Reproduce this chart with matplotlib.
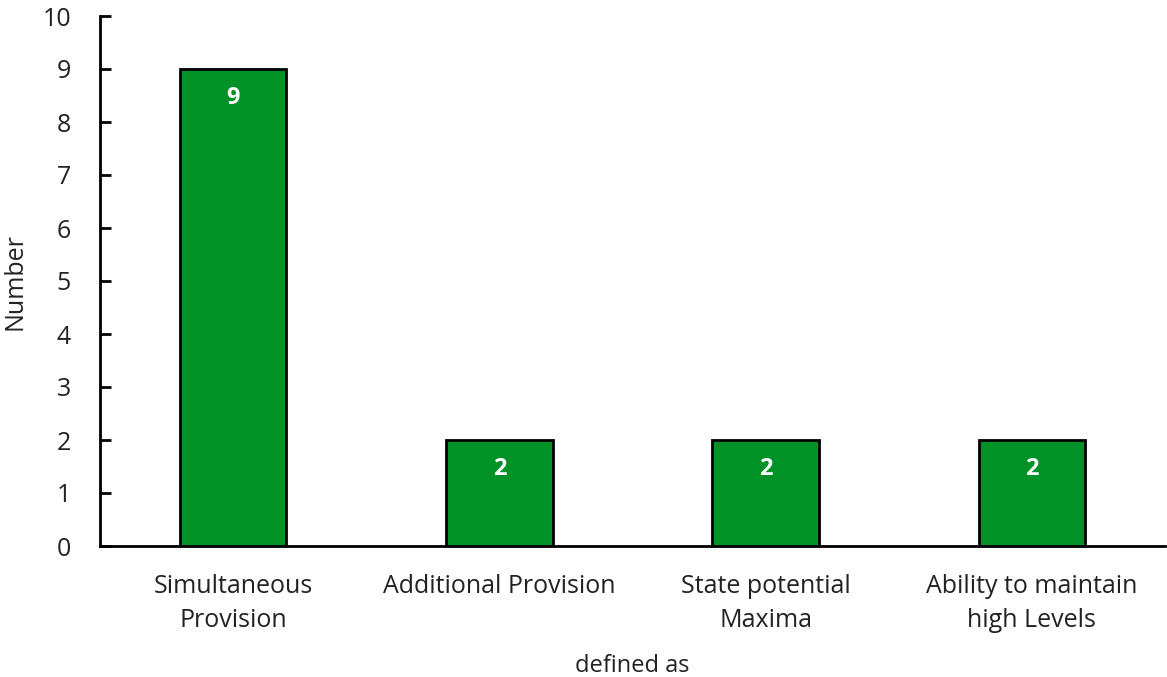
import matplotlib
matplotlib.use("Agg")
import matplotlib.pyplot as plt

plt.rcParams['font.family'] = ['Open Sans', 'DejaVu Sans']

categories = ['Simultaneous\nProvision', 'Additional Provision',
              'State potential\nMaxima', 'Ability to maintain\nhigh Levels']
counts = [9, 2, 2, 2]

fig = plt.figure(figsize=(11.67, 6.77), dpi=100)
ax = fig.add_axes([100/1167, 1-546/677, 1065/1167, 530/677])

bars = ax.bar(range(len(counts)), counts, width=0.40, color='#009127',
              edgecolor='black', linewidth=2, zorder=3)
for b, v in zip(bars, counts):
    ax.text(b.get_x()+b.get_width()/2, v-0.32, str(v), ha='center', va='top',
            color='white', fontsize=17, fontweight='bold')

ax.set_xlim(-0.5, 3.5)
ax.set_ylim(0, 10)
ax.set_yticks(range(11))
ax.set_xticks(range(len(counts)))
ax.set_xticklabels(categories, fontsize=18, color='#222222', linespacing=1.5)
ax.tick_params(axis='x', length=0, pad=20)
ax.tick_params(axis='y', direction='in', length=8, width=2, labelsize=18,
               labelcolor='#222222', pad=21)
for s in ['top', 'right']:
    ax.spines[s].set_visible(False)
ax.spines['left'].set_linewidth(2)
ax.spines['bottom'].set_linewidth(2)

fig.text(15/1167, 1-282/677, 'Number', rotation=90, ha='center', va='center',
         fontsize=18, color='#222222')
ax.set_xlabel('defined as', fontsize=17, color='#222222', labelpad=15)

fig.savefig('out.png', dpi=100)
